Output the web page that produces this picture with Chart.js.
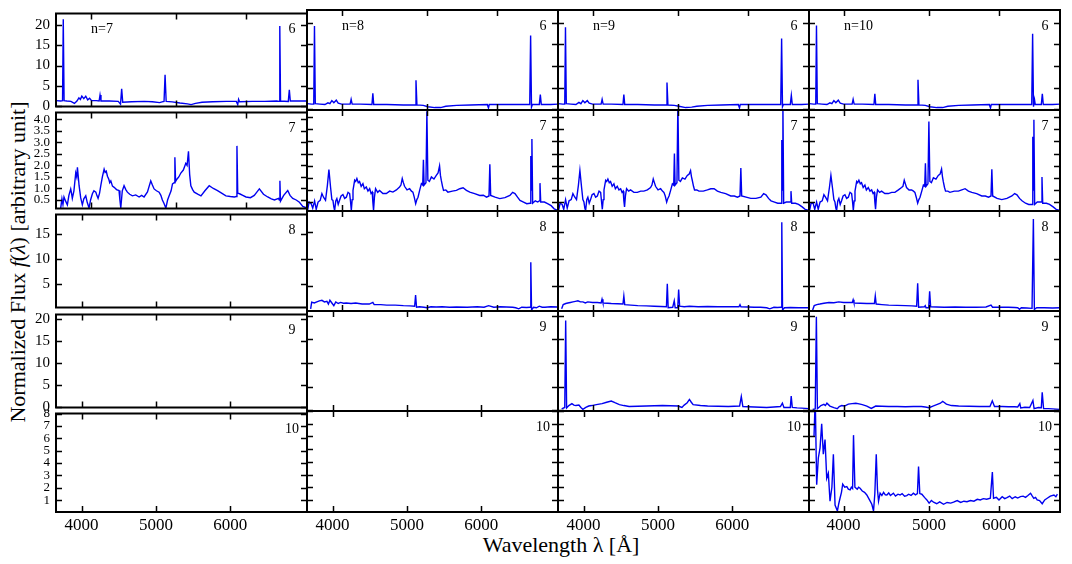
<!DOCTYPE html>
<html>
<head>
<meta charset="utf-8">
<script src="https://cdn.jsdelivr.net/npm/chart.js@4.4.0/dist/chart.umd.min.js"></script>
<style>
  body { margin: 0; background: #fff; width: 1072px; height: 564px; position: relative; overflow: hidden; font-family: "Liberation Serif", serif; }
  canvas { position: absolute; }
  .ttl { position: absolute; font-size: 22px; white-space: nowrap; color: #000; transform: translate(-50%, -50%); }
</style>
</head>
<body>
<div class="ttl" style="left:18px;top:262px;transform:translate(-50%,-50%) rotate(-90deg);">Normalized Flux <i>f</i>(<i>λ</i>) [arbitrary unit]</div>
<div class="ttl" style="left:561px;top:545px;">Wavelength λ [Å]</div>

<script>
// axis settings
const xMin = 3655, xMax = 7035;
const xTickVals = [4000, 5000, 6000];
const yMin = [-0.16, 0.13, 0.3, -0.15, 0.05];
const yMax = [22.9, 4.3, 19.0, 21.0, 8.0];
const yTickVals = [[0, 5, 10, 15, 20], [0.5, 1, 1.5, 2, 2.5, 3, 3.5, 4], [5, 10, 15], [0, 5, 10, 15, 20], [1, 2, 3, 4, 5, 6, 7, 8]];
const yTickDec = [0, 1, 0, 0, 0];
const yTickSize = [15, 13, 15, 15, 13];
const nLabels = ['n=7', 'n=8', 'n=9', 'n=10'];
const rowLabels = ['6', '7', '8', '9', '10'];
const serif = '"Liberation Serif", "Times New Roman", serif';

// spectra [wavelength, flux]
const n7_c6 = [[3655,1.3],[3700,1.2],[3718,1.3],[3725,21.5],[3733,1.3],[3760,1.2],[3800,1.1],[3835,0.6],[3860,1.2],[3880,2.0],[3895,1.6],[3910,2.4],[3930,1.8],[3950,2.4],[3970,1.5],[3990,1.9],[4010,1.3],[4060,1.3],[4090,1.2],[4100,2.7],[4110,1.2],[4200,1.2],[4300,1.1],[4325,0.4],[4338,4.2],[4350,0.9],[4450,1.0],[4600,1.1],[4700,1.0],[4790,0.8],[4820,1.0],[4845,1.1],[4858,7.7],[4872,1.1],[4950,1.0],[5050,0.7],[5150,0.5],[5200,0.3],[5260,0.6],[5350,0.9],[5500,1.0],[5700,1.1],[5850,1.1],[5872,0.3],[5885,1.6],[5900,1.0],[6100,1.1],[6300,1.1],[6500,1.2],[6540,1.1],[6553,19.8],[6566,1.2],[6700,1.1],[6718,4.0],[6735,1.2],[6900,1.2],[7035,1.2]];
const n8_c6 = [[3655,1.3],[3700,1.2],[3720,1.2],[3727,19.2],[3735,1.3],[3780,1.2],[3830,1.1],[3860,1.5],[3880,1.3],[3900,2.0],[3920,1.5],[3945,2.1],[3965,1.4],[4000,1.2],[4090,1.2],[4101,2.3],[4112,1.2],[4200,1.2],[4330,1.1],[4340,3.7],[4350,1.1],[4500,1.1],[4700,1.0],[4845,1.0],[4857,6.7],[4869,1.0],[4950,0.9],[5010,0.6],[5100,0.4],[5180,0.4],[5250,0.7],[5400,0.9],[5600,1.0],[5850,1.1],[5868,0.3],[5880,1.1],[6100,1.1],[6400,1.1],[6535,1.1],[6550,17.0],[6565,0.5],[6580,1.1],[6700,1.1],[6718,3.4],[6735,1.1],[6900,1.1],[7035,1.2]];
const n9_c6 = [[3655,1.3],[3700,1.2],[3720,1.2],[3727,18.9],[3735,1.3],[3780,1.2],[3830,1.1],[3860,1.6],[3880,1.3],[3900,2.0],[3920,1.5],[3945,2.0],[3965,1.4],[4000,1.2],[4090,1.2],[4101,2.3],[4112,1.2],[4200,1.2],[4330,1.1],[4340,3.4],[4350,1.1],[4500,1.1],[4700,1.0],[4845,1.0],[4857,6.2],[4869,1.0],[4950,0.9],[5010,0.7],[5100,0.4],[5180,0.5],[5250,0.7],[5400,0.9],[5600,1.0],[5850,1.1],[5868,0.3],[5880,1.1],[6100,1.1],[6400,1.1],[6535,1.1],[6550,16.3],[6565,0.6],[6580,1.1],[6700,1.1],[6718,3.2],[6735,1.1],[6900,1.1],[7035,1.2]];
const n10_c6 = [[3655,1.3],[3700,1.2],[3720,1.2],[3727,19.3],[3735,1.3],[3780,1.2],[3830,1.1],[3860,1.5],[3880,1.3],[3900,2.0],[3920,1.5],[3945,2.1],[3965,1.4],[4000,1.2],[4090,1.2],[4101,2.3],[4112,1.2],[4200,1.2],[4330,1.1],[4340,3.6],[4350,1.1],[4500,1.1],[4700,1.0],[4845,1.0],[4857,6.8],[4869,1.0],[4950,0.9],[5010,0.6],[5100,0.4],[5180,0.4],[5250,0.7],[5400,0.9],[5600,1.0],[5850,1.1],[5868,0.3],[5880,1.1],[6100,1.1],[6400,1.1],[6535,1.1],[6550,17.4],[6565,0.6],[6583,2.2],[6595,1.1],[6700,1.1],[6718,3.6],[6735,1.1],[6900,1.1],[7035,1.2]];

const n7_c7 = [[3700,0.15],[3712,0.55],[3722,0.3],[3732,0.63],[3748,0.45],[3765,0.29],[3780,0.7],[3798,0.98],[3806,0.8],[3814,0.57],[3830,0.9],[3848,1.67],[3858,1.5],[3865,1.92],[3874,1.5],[3882,1.12],[3898,0.6],[3915,0.29],[3930,0.55],[3950,0.68],[3965,0.4],[3984,0.15],[4000,0.5],[4019,0.77],[4035,0.9],[4055,0.84],[4066,0.7],[4079,0.57],[4095,0.8],[4108,1.12],[4125,1.5],[4144,1.84],[4155,1.7],[4167,1.75],[4180,1.53],[4195,1.4],[4205,1.25],[4217,1.33],[4235,1.1],[4254,1.05],[4280,0.95],[4308,0.91],[4318,0.5],[4328,0.15],[4345,0.9],[4365,1.12],[4385,0.95],[4403,0.84],[4430,0.75],[4461,0.68],[4500,0.72],[4540,0.63],[4570,0.7],[4599,0.63],[4640,0.85],[4680,1.33],[4700,1.15],[4721,0.98],[4750,0.9],[4783,0.84],[4805,0.7],[4824,0.5],[4845,0.35],[4868,0.15],[4890,0.5],[4910,0.68],[4935,0.9],[4953,1.2],[4975,1.25],[4984,2.36],[4993,1.3],[5010,1.4],[5035,1.5],[5062,1.67],[5095,1.8],[5128,2.09],[5145,2.0],[5164,2.61],[5180,1.6],[5196,1.12],[5220,0.95],[5242,0.84],[5290,0.75],[5335,0.68],[5390,0.9],[5451,1.12],[5510,1.0],[5571,0.91],[5630,0.8],[5694,0.68],[5760,0.65],[5820,0.63],[5850,0.65],[5860,2.85],[5872,0.8],[5900,0.77],[5950,0.7],[6000,0.63],[6070,0.6],[6131,0.7],[6175,0.85],[6213,0.98],[6280,0.75],[6350,0.63],[6410,0.55],[6463,0.5],[6532,0.57],[6545,0.5],[6555,1.33],[6565,0.45],[6620,0.7],[6690,0.91],[6730,0.7],[6778,0.57],[6840,0.5],[6897,0.4],[6958,0.22],[7035,0.15]];
const n8_c7 = [[3660,0.15],[3675,0.5],[3695,0.43],[3710,0.25],[3728,0.55],[3744,0.2],[3762,0.5],[3783,0.57],[3800,0.85],[3816,0.7],[3836,0.57],[3855,1.2],[3870,1.84],[3887,1.1],[3900,0.6],[3911,0.57],[3920,0.3],[3928,0.15],[3940,0.55],[3951,0.64],[3965,0.4],[3979,0.57],[3995,0.75],[4014,0.81],[4032,0.65],[4050,0.7],[4068,0.9],[4085,0.85],[4095,0.5],[4103,0.15],[4112,0.6],[4121,0.98],[4139,1.4],[4150,1.35],[4163,1.47],[4178,1.3],[4192,1.35],[4210,1.15],[4229,1.26],[4245,1.05],[4266,1.12],[4285,0.95],[4304,1.05],[4320,0.85],[4333,0.91],[4340,0.5],[4348,0.15],[4358,0.7],[4371,1.05],[4395,0.9],[4417,0.98],[4455,0.85],[4495,0.85],[4535,0.95],[4573,0.91],[4615,1.0],[4653,1.12],[4670,1.2],[4686,1.47],[4700,1.3],[4714,1.15],[4745,1.0],[4777,1.05],[4800,0.95],[4818,0.91],[4835,0.7],[4853,0.43],[4868,0.6],[4883,0.7],[4905,1.0],[4926,1.26],[4943,1.2],[4952,2.25],[4961,1.2],[4985,1.3],[4997,4.25],[5010,1.4],[5030,1.35],[5056,1.54],[5090,1.45],[5121,1.6],[5145,1.7],[5165,1.99],[5177,1.6],[5188,1.4],[5205,1.15],[5219,0.98],[5250,1.0],[5279,0.91],[5340,0.95],[5397,0.98],[5445,1.05],[5492,1.09],[5540,0.98],[5589,0.91],[5660,0.85],[5736,0.77],[5790,0.78],[5838,0.7],[5876,0.75],[5889,2.06],[5902,0.77],[5970,0.7],[6044,0.64],[6125,0.68],[6205,0.77],[6250,0.9],[6288,0.85],[6330,0.7],[6371,0.57],[6430,0.5],[6484,0.43],[6540,0.45],[6553,2.4],[6560,1.0],[6572,3.1],[6585,0.45],[6630,0.55],[6672,0.5],[6700,0.55],[6712,1.28],[6725,0.5],[6790,0.5],[6846,0.43],[6910,0.35],[6965,0.22],[7035,0.15]];
const n9_c7 = [[3660,0.15],[3675,0.45],[3695,0.4],[3710,0.2],[3728,0.6],[3744,0.25],[3762,0.55],[3783,0.6],[3800,0.85],[3816,0.72],[3836,0.6],[3855,1.2],[3870,1.8],[3887,1.1],[3900,0.6],[3911,0.5],[3920,0.25],[3928,0.15],[3940,0.6],[3951,0.7],[3965,0.45],[3979,0.6],[3995,0.8],[4014,0.85],[4032,0.7],[4050,0.75],[4068,0.95],[4085,0.9],[4095,0.5],[4103,0.2],[4112,0.6],[4121,1.0],[4139,1.4],[4150,1.35],[4163,1.45],[4178,1.3],[4192,1.35],[4210,1.15],[4229,1.25],[4245,1.05],[4266,1.15],[4285,1.0],[4304,1.05],[4320,0.9],[4333,0.95],[4340,0.55],[4348,0.3],[4358,0.75],[4371,1.05],[4395,0.95],[4417,1.0],[4455,0.9],[4495,0.9],[4535,0.95],[4573,0.95],[4615,1.0],[4653,1.1],[4670,1.2],[4686,1.45],[4700,1.3],[4714,1.15],[4745,1.0],[4777,1.05],[4800,0.95],[4818,0.9],[4835,0.75],[4853,0.5],[4868,0.65],[4883,0.75],[4905,1.0],[4926,1.25],[4943,1.2],[4952,2.5],[4961,1.2],[4985,1.3],[4997,4.6],[5010,1.4],[5030,1.35],[5056,1.5],[5090,1.45],[5121,1.6],[5145,1.65],[5165,1.8],[5177,1.55],[5188,1.4],[5205,1.15],[5219,1.0],[5250,1.0],[5279,0.95],[5340,0.95],[5397,1.0],[5445,1.05],[5492,1.05],[5540,0.95],[5589,0.9],[5660,0.85],[5736,0.75],[5790,0.75],[5838,0.7],[5876,0.75],[5889,1.9],[5902,0.75],[5970,0.7],[6044,0.65],[6125,0.65],[6205,0.7],[6250,0.85],[6288,0.8],[6330,0.65],[6371,0.55],[6430,0.5],[6484,0.45],[6540,0.45],[6553,3.06],[6560,1.0],[6572,4.6],[6585,0.45],[6630,0.5],[6672,0.5],[6700,0.5],[6712,0.95],[6725,0.45],[6790,0.45],[6846,0.4],[6910,0.3],[6965,0.2],[7035,0.15]];
const n10_c7 = [[3660,0.15],[3675,0.45],[3695,0.45],[3710,0.2],[3728,0.5],[3744,0.2],[3762,0.5],[3783,0.55],[3800,0.8],[3816,0.7],[3836,0.55],[3855,1.1],[3870,1.6],[3887,1.05],[3900,0.6],[3911,0.5],[3920,0.25],[3928,0.15],[3940,0.55],[3951,0.65],[3965,0.4],[3979,0.55],[3995,0.75],[4014,0.8],[4032,0.65],[4050,0.7],[4068,0.9],[4085,0.85],[4095,0.5],[4103,0.15],[4112,0.55],[4121,0.95],[4139,1.35],[4150,1.3],[4163,1.4],[4178,1.25],[4192,1.3],[4210,1.1],[4229,1.2],[4245,1.0],[4266,1.1],[4285,0.95],[4304,1.0],[4320,0.85],[4333,0.9],[4340,0.5],[4348,0.2],[4358,0.7],[4371,1.0],[4395,0.9],[4417,0.95],[4455,0.85],[4495,0.85],[4535,0.9],[4573,0.9],[4615,1.0],[4653,1.1],[4670,1.15],[4686,1.4],[4700,1.25],[4714,1.1],[4745,1.0],[4777,1.0],[4800,0.95],[4818,0.9],[4835,0.7],[4853,0.45],[4868,0.6],[4883,0.7],[4905,0.95],[4926,1.2],[4943,1.15],[4952,2.1],[4961,1.15],[4985,1.25],[4997,3.82],[5010,1.35],[5030,1.3],[5056,1.5],[5090,1.45],[5121,1.6],[5145,1.65],[5165,1.86],[5177,1.55],[5188,1.35],[5205,1.1],[5219,0.95],[5250,0.95],[5279,0.9],[5340,0.95],[5397,0.95],[5445,1.0],[5492,1.05],[5540,0.95],[5589,0.9],[5660,0.85],[5736,0.75],[5790,0.75],[5838,0.7],[5876,0.75],[5889,1.85],[5902,0.75],[5970,0.65],[6044,0.6],[6125,0.65],[6205,0.75],[6250,0.85],[6288,0.8],[6330,0.65],[6371,0.55],[6430,0.45],[6484,0.4],[6540,0.4],[6553,3.2],[6560,1.0],[6572,3.9],[6585,0.4],[6630,0.5],[6672,0.5],[6700,0.5],[6712,1.53],[6725,0.45],[6790,0.45],[6846,0.4],[6910,0.3],[6965,0.2],[7035,0.15]];

const n8_c8 = [[3690,0.7],[3700,1.95],[3725,1.8],[3750,2.0],[3775,2.2],[3800,2.3],[3825,2.0],[3850,2.1],[3865,1.6],[3880,2.3],[3900,1.8],[3920,1.3],[3940,2.0],[3965,1.7],[3990,1.9],[4020,1.75],[4050,1.8],[4100,1.7],[4150,1.8],[4220,1.6],[4300,1.6],[4340,1.9],[4355,1.5],[4430,1.5],[4500,1.4],[4600,1.4],[4700,1.3],[4780,1.25],[4840,1.2],[4852,3.3],[4864,1.0],[4900,1.1],[4960,1.0],[5000,0.9],[5050,1.1],[5120,1.05],[5200,1.1],[5300,1.0],[5400,1.05],[5550,1.0],[5700,1.1],[5800,1.0],[5870,1.3],[5950,1.0],[6050,1.1],[6150,1.05],[6250,1.0],[6300,0.9],[6350,0.7],[6400,1.0],[6480,0.95],[6540,1.0],[6553,9.4],[6566,0.5],[6600,1.0],[6650,0.9],[6700,1.2],[6750,1.0],[6800,1.0],[6900,1.1],[7035,1.05]];
const n9_c8 = [[3690,0.7],[3705,1.5],[3730,1.7],[3750,1.8],[3775,1.9],[3800,2.0],[3825,2.1],[3850,2.2],[3875,2.0],[3900,2.0],[3925,1.8],[3950,2.0],[4000,1.9],[4050,1.9],[4090,1.8],[4100,2.5],[4110,1.8],[4160,1.75],[4200,1.7],[4270,1.65],[4330,1.6],[4340,3.1],[4350,1.5],[4420,1.4],[4500,1.3],[4600,1.25],[4700,1.2],[4780,1.15],[4850,1.1],[4861,5.4],[4872,0.9],[4930,1.0],[4950,2.2],[4962,0.9],[4995,0.9],[5007,4.3],[5020,1.2],[5080,1.1],[5150,1.2],[5270,1.1],[5400,1.15],[5550,1.1],[5700,1.1],[5860,1.1],[5876,1.5],[5890,1.1],[6000,1.05],[6100,1.0],[6200,1.0],[6300,0.9],[6350,0.7],[6420,1.0],[6480,0.95],[6540,1.0],[6553,16.9],[6566,0.5],[6600,0.9],[6700,0.95],[6850,0.9],[7035,0.9]];
const n10_c8 = [[3690,0.5],[3705,1.3],[3730,1.5],[3760,1.6],[3800,1.75],[3850,1.9],[3900,1.85],[3950,2.0],[4000,1.9],[4050,1.9],[4092,1.9],[4101,2.4],[4110,1.8],[4180,1.75],[4250,1.7],[4335,1.7],[4345,3.1],[4355,1.6],[4420,1.5],[4500,1.4],[4600,1.35],[4700,1.3],[4780,1.25],[4840,1.2],[4853,5.5],[4865,1.0],[4940,1.1],[4950,1.3],[4960,0.9],[4995,0.9],[5007,4.0],[5020,1.1],[5100,1.05],[5200,1.0],[5350,1.05],[5500,1.0],[5650,1.0],[5800,1.05],[5876,1.4],[5900,1.0],[6000,1.0],[6150,1.0],[6250,0.95],[6300,0.9],[6330,0.6],[6360,0.9],[6450,0.85],[6540,0.8],[6563,17.5],[6580,0.6],[6620,0.9],[6750,0.9],[6900,0.85],[7035,0.9]];

const n9_c9 = [[3690,0.3],[3720,0.6],[3729,19.0],[3738,0.5],[3760,1.0],[3790,1.4],[3810,1.1],[3830,1.0],[3860,1.1],[3880,0.6],[3900,0.2],[3930,0.6],[3960,0.9],[3990,1.0],[4040,1.2],[4100,1.4],[4150,1.7],[4200,1.95],[4240,1.6],[4290,1.2],[4340,1.0],[4400,0.8],[4500,0.85],[4600,0.9],[4700,0.95],[4800,1.0],[4900,0.95],[5000,0.9],[5050,0.6],[5080,1.1],[5120,1.6],[5150,2.3],[5175,1.7],[5200,1.2],[5300,1.0],[5400,0.9],[5550,0.85],[5700,0.8],[5870,0.9],[5896,2.9],[5920,0.8],[6000,0.75],[6100,0.7],[6200,0.65],[6300,0.6],[6420,0.7],[6530,0.8],[6563,1.5],[6590,0.6],[6650,0.6],[6700,0.6],[6716,3.0],[6735,0.6],[6820,0.5],[6900,0.45],[7035,0.35]];
const n10_c9 = [[3690,0.2],[3715,0.3],[3726,19.8],[3736,0.35],[3755,0.7],[3770,1.0],[3800,1.25],[3815,1.0],[3830,1.5],[3860,0.9],[3900,0.55],[3935,0.35],[3955,0.8],[3980,1.0],[4010,0.9],[4050,1.3],[4090,1.4],[4130,1.5],[4165,1.35],[4200,1.2],[4250,0.9],[4300,0.4],[4350,0.9],[4420,0.85],[4500,0.8],[4600,0.8],[4700,0.75],[4800,0.8],[4900,0.8],[4950,0.7],[5000,0.55],[5050,0.9],[5100,1.2],[5150,1.5],[5180,1.9],[5230,1.3],[5300,1.0],[5400,0.9],[5550,0.85],[5700,0.8],[5860,0.8],[5896,2.0],[5930,0.8],[6050,0.8],[6150,0.75],[6250,0.75],[6300,0.7],[6335,1.4],[6350,0.5],[6420,0.65],[6500,0.6],[6555,2.1],[6575,0.35],[6650,0.6],[6700,0.55],[6716,3.8],[6740,0.35],[6820,0.35],[6900,0.3],[7035,0.2]];

const n10_c10 = [[3703,6.0],[3715,9.0],[3729,2.2],[3745,4.3],[3762,5.1],[3778,7.0],[3794,4.6],[3811,5.75],[3828,2.7],[3844,3.1],[3861,0.9],[3880,2.0],[3895,4.6],[3912,0.6],[3936,0.13],[3950,0.7],[3963,1.13],[3978,1.6],[3991,2.24],[4012,2.0],[4034,2.05],[4050,1.85],[4069,1.79],[4082,2.0],[4095,1.9],[4105,6.1],[4120,2.0],[4145,1.85],[4160,2.0],[4176,1.92],[4200,1.7],[4225,1.6],[4250,1.39],[4280,1.0],[4306,0.66],[4325,0.13],[4340,1.5],[4356,4.6],[4370,1.8],[4382,0.9],[4400,1.53],[4420,1.35],[4440,1.6],[4460,1.4],[4478,1.39],[4500,1.55],[4520,1.35],[4555,1.53],[4580,1.3],[4610,1.45],[4635,1.39],[4660,1.5],[4690,1.3],[4717,1.34],[4740,1.45],[4770,1.35],[4799,1.53],[4825,1.4],[4850,1.5],[4864,3.63],[4880,1.5],[4906,1.45],[4940,1.2],[4971,1.0],[5000,0.75],[5030,0.95],[5058,0.82],[5100,0.7],[5140,0.85],[5192,0.66],[5240,0.8],[5290,0.75],[5329,0.82],[5380,0.95],[5430,0.8],[5475,0.9],[5519,0.86],[5570,0.95],[5620,0.9],[5670,1.05],[5714,1.0],[5760,1.1],[5810,1.05],[5866,1.13],[5897,3.19],[5915,1.13],[5960,1.2],[6000,1.0],[6050,1.25],[6090,1.1],[6126,1.18],[6170,1.3],[6210,1.1],[6260,1.25],[6300,1.15],[6345,1.26],[6390,1.3],[6430,1.2],[6470,1.35],[6515,1.53],[6545,1.3],[6570,1.13],[6600,1.2],[6628,1.0],[6670,0.95],[6716,0.7],[6760,1.0],[6804,1.13],[6860,1.3],[6925,1.39],[6960,1.25],[6987,1.45]];

// panel grid: rows = cluster 6..10, cols = n 7..10
const spectra = [
  [n7_c6, n8_c6, n9_c6, n10_c6],
  [n7_c7, n8_c7, n9_c7, n10_c7],
  [null, n8_c8, n9_c8, n10_c8],
  [null, null, n9_c9, n10_c9],
  [null, null, null, n10_c10]
];

const colX = [56, 307, 558, 809, 1060];
const rowY = [10, 110, 211, 311, 411, 512];

const framePlugin = {
  id: 'frame',
  afterDraw(chart, args, opts) {
    const { ctx, chartArea: a, scales } = chart;
    const L = 6;
    ctx.save();
    ctx.strokeStyle = '#000';
    ctx.lineWidth = 1.5;
    ctx.beginPath();
    scales.x.ticks.forEach(t => {
      const px = Math.round(scales.x.getPixelForValue(t.value)) + 0.5;
      ctx.moveTo(px, a.bottom); ctx.lineTo(px, a.bottom - L);
      ctx.moveTo(px, a.top); ctx.lineTo(px, a.top + L);
    });
    scales.y.ticks.forEach(t => {
      const py = Math.round(scales.y.getPixelForValue(t.value)) + 0.5;
      ctx.moveTo(a.left, py); ctx.lineTo(a.left + L, py);
      ctx.moveTo(a.right, py); ctx.lineTo(a.right - L, py);
    });
    ctx.stroke();
    ctx.lineWidth = 2;
    ctx.strokeRect(a.left, a.top, a.right - a.left, a.bottom - a.top);
    ctx.fillStyle = '#000';
    ctx.font = '14px ' + serif;
    ctx.textBaseline = 'middle';
    ctx.textAlign = 'center';
    ctx.fillText(opts.row, a.right - 15, a.top + 16);
    if (opts.n) {
      ctx.textAlign = 'left';
      ctx.fillText(opts.n, a.left + 35, a.top + 16);
    }
    ctx.restore();
  }
};

for (let r = 0; r < 5; r++) {
  for (let c = 0; c < 4; c++) {
    const data = spectra[r][c];
    const padL = c === 0 ? 60 : 10;
    const padB = r === 4 ? 40 : 10;
    const w = colX[c + 1] - colX[c], h = rowY[r + 1] - rowY[r];
    const cv = document.createElement('canvas');
    cv.width = w + padL + 10;
    cv.height = h + 10 + padB;
    cv.style.left = (colX[c] - padL) + 'px';
    cv.style.top = (rowY[r] - 10) + 'px';
    document.body.appendChild(cv);

    new Chart(cv, {
      type: 'line',
      data: {
        datasets: data ? [{
          data: data.map(p => ({ x: p[0], y: p[1] })),
          borderColor: '#0000f0',
          borderWidth: 1.4,
          pointRadius: 0,
          tension: 0,
          fill: false
        }] : []
      },
      options: {
        responsive: false,
        animation: false,
        events: [],
        layout: { padding: { left: 0, top: 10, right: 10, bottom: 0 } },
        plugins: {
          legend: { display: false },
          tooltip: { enabled: false },
          frame: { row: rowLabels[r], n: r === 0 ? nLabels[c] : '' }
        },
        scales: {
          x: {
            type: data ? 'logarithmic' : 'linear',
            min: xMin, max: xMax, bounds: 'data',
            grid: { display: false, drawTicks: false },
            border: { display: false },
            afterBuildTicks: s => { s.ticks = xTickVals.map(v => ({ value: v })); },
            afterFit: s => { s.height = padB; },
            ticks: {
              display: r === 4, padding: 3, color: '#000', autoSkip: false, maxRotation: 0,
              font: { family: serif, size: 17 },
              callback: v => String(v)
            }
          },
          y: {
            type: 'linear',
            min: yMin[r], max: yMax[r],
            grid: { display: false, drawTicks: false },
            border: { display: false },
            afterBuildTicks: s => { s.ticks = yTickVals[r].map(v => ({ value: v })); },
            afterFit: s => { s.width = padL; },
            ticks: {
              display: c === 0, padding: 6, color: '#000', autoSkip: false,
              font: { family: serif, size: yTickSize[r], lineHeight: 1 },
              callback: v => Number(v).toFixed(yTickDec[r])
            }
          }
        }
      },
      plugins: [framePlugin]
    });
  }
}
</script>
</body>
</html>
